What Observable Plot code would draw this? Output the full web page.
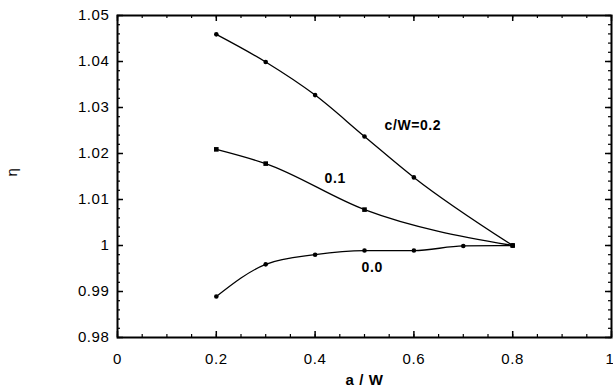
<!DOCTYPE html>
<html>
<head>
<meta charset="utf-8">
<script src="https://cdn.jsdelivr.net/npm/d3@7"></script>
<script src="https://cdn.jsdelivr.net/npm/@observablehq/plot@0.6"></script>
<style>
  html, body { margin: 0; padding: 0; background: #fff; }
  svg { font-family: "Liberation Sans", Arial, sans-serif; }
</style>
</head>
<body>
<div id="chart"></div>
<script>
// ---- data ----
const aW02 = [0.2, 0.3, 0.4, 0.5, 0.6, 0.8];
const eta02 = [1.0459, 1.0399, 1.0327, 1.0237, 1.0148, 1.0000];
const aW01 = [0.2, 0.3, 0.5, 0.8];
const eta01 = [1.0209, 1.0178, 1.0078, 1.0000];
const aW00 = [0.2, 0.3, 0.4, 0.5, 0.6, 0.7, 0.8];
const eta00 = [0.9889, 0.9959, 0.9980, 0.9989, 0.9989, 0.9999, 1.0000];
const seriesNames = ["0.2", "0.1", "0.0"];
const seriesLabels = ["c/W=0.2", "0.1", "0.0"];
const labelAtAW = [0.5, 0.5, 0.5];
const xTicks = [0, 0.2, 0.4, 0.6, 0.8, 1];
const xMinorTicks = d3.range(0, 21).map(i => i * 0.05);
const yTicks = [0.98, 0.99, 1.0, 1.01, 1.02, 1.03, 1.04, 1.05];
const yMinorTicks = d3.range(0, 36).map(i => 0.98 + i * 0.002);

const rows = [];
[[aW02, eta02, "0.2"], [aW01, eta01, "0.1"], [aW00, eta00, "0.0"]].forEach(([xs, ys, s]) => {
  xs.forEach((x, i) => rows.push({aW: x, eta: ys[i], series: s}));
});
const labelRows = seriesNames.map((s, i) => {
  const r = rows.find(d => d.series === s && d.aW === labelAtAW[i]);
  return {aW: r.aW, eta: r.eta, text: seriesLabels[i], series: s};
});

const fmt = d => String(+d.toFixed(2));
const W = 613, H = 392;
const mt = 15, mb = 55, ml = 117, mr = 2;
const ph = H - mt - mb, pw = W - ml - mr;
const xInner = xTicks.slice(0, -1);
const xLast = xTicks.slice(-1);

const chart = Plot.plot({
  width: W, height: H,
  marginTop: mt, marginBottom: mb, marginLeft: ml, marginRight: mr,
  x: {domain: [0, 1]},
  y: {domain: [0.98, 1.05]},
  style: {fontFamily: "'Liberation Sans', Arial, sans-serif", background: "#fff", color: "#000"},
  marks: [
    // inward ticks: minor
    Plot.tickX(xMinorTicks, {x: d => d, insetTop: ph - 3, stroke: "#000", strokeWidth: 1.2}),
    Plot.tickX(xMinorTicks, {x: d => d, insetBottom: ph - 3, stroke: "#000", strokeWidth: 1.2}),
    Plot.tickY(yMinorTicks, {y: d => d, insetRight: pw - 3, stroke: "#000", strokeWidth: 1.2}),
    Plot.tickY(yMinorTicks, {y: d => d, insetLeft: pw - 3, stroke: "#000", strokeWidth: 1.2}),
    // inward ticks: major
    Plot.tickX(xTicks, {x: d => d, insetTop: ph - 6, stroke: "#000", strokeWidth: 1.5}),
    Plot.tickX(xTicks, {x: d => d, insetBottom: ph - 6, stroke: "#000", strokeWidth: 1.5}),
    Plot.tickY(yTicks, {y: d => d, insetRight: pw - 6, stroke: "#000", strokeWidth: 1.5}),
    Plot.tickY(yTicks, {y: d => d, insetLeft: pw - 6, stroke: "#000", strokeWidth: 1.5}),
    Plot.frame({stroke: "#000", strokeWidth: 2}),
    Plot.axisX({ticks: xInner, tickSize: 0, tickPadding: 16, tickFormat: fmt, fontSize: 15, label: null}),
    // last x tick label, kept inside the picture's right edge
    Plot.text(xLast, {x: d => d, frameAnchor: "bottom", dy: 26, textAnchor: "end", dx: 3, text: fmt, fontSize: 15, fill: "#000"}),
    Plot.axisY({ticks: yTicks, tickSize: 0, tickPadding: 8, tickFormat: fmt, fontSize: 15, label: null}),
    Plot.text(["a / W"], {frameAnchor: "bottom", dy: 47, fontSize: 15, fontWeight: "bold", fill: "#000"}),
    Plot.text(["η"], {frameAnchor: "left", dx: -105, rotate: -90, fontSize: 15, fill: "#000"}),
    Plot.line(rows, {x: "aW", y: "eta", z: "series", curve: "monotone-x", stroke: "#000", strokeWidth: 1.3}),
    Plot.dot(rows.filter(d => d.series !== "0.1"), {x: "aW", y: "eta", r: 2.3, fill: "#000", stroke: null}),
    Plot.dot(rows.filter(d => d.series === "0.1"), {x: "aW", y: "eta", symbol: "square", r: 2.6, fill: "#000", stroke: null}),
    Plot.text(labelRows.filter(d => d.series === "0.2"), {x: "aW", y: "eta", text: "text", dx: 20, dy: -11, textAnchor: "start", fontSize: 14, fontWeight: "bold", fill: "#000"}),
    Plot.text(labelRows.filter(d => d.series === "0.1"), {x: "aW", y: "eta", text: "text", dx: -40, dy: -31, textAnchor: "start", fontSize: 14, fontWeight: "bold", fill: "#000"}),
    Plot.text(labelRows.filter(d => d.series === "0.0"), {x: "aW", y: "eta", text: "text", dx: -3, dy: 17, textAnchor: "start", fontSize: 14, fontWeight: "bold", fill: "#000"})
  ]
});
chart.querySelectorAll("text").forEach(t => t.style.letterSpacing = "0.6px");
document.getElementById("chart").appendChild(chart);
</script>
</body>
</html>
